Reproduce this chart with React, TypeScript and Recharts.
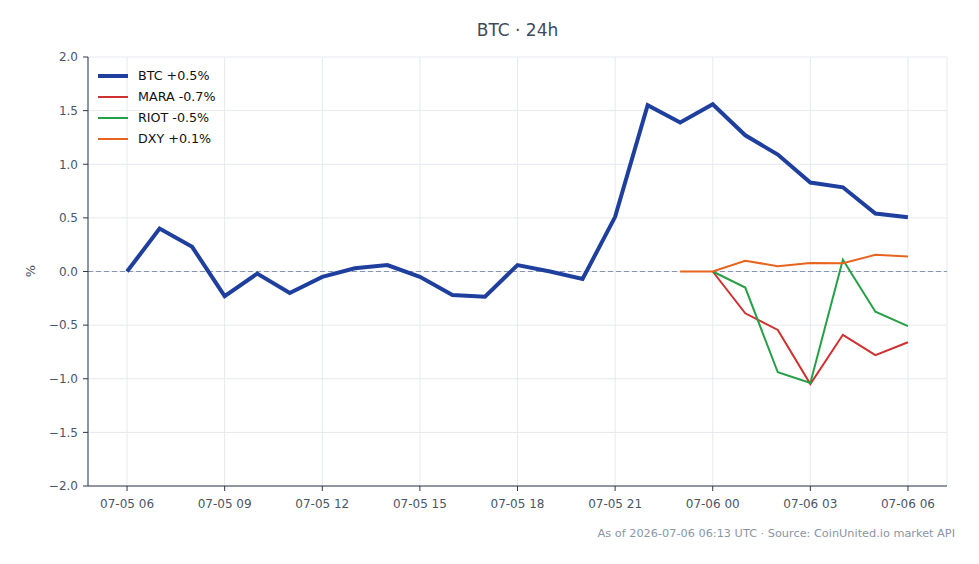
import React from 'react';
import { LineChart, Line, XAxis, YAxis, CartesianGrid, ReferenceLine } from 'recharts';

const hours: string[] = [
  '07-05 06', '07-05 07', '07-05 08', '07-05 09', '07-05 10', '07-05 11', '07-05 12', '07-05 13',
  '07-05 14', '07-05 15', '07-05 16', '07-05 17', '07-05 18', '07-05 19', '07-05 20', '07-05 21',
  '07-05 22', '07-05 23', '07-06 00', '07-06 01', '07-06 02', '07-06 03', '07-06 04', '07-06 05', '07-06 06',
];
const btc: (number | null)[] = [
  0.0, 0.4, 0.23, -0.23, -0.02, -0.2, -0.05, 0.03, 0.06, -0.05, -0.22, -0.235, 0.06, 0.0, -0.07,
  0.51, 1.55, 1.39, 1.56, 1.27, 1.09, 0.83, 0.785, 0.54, 0.505,
];
const mara: (number | null)[] = [
  null, null, null, null, null, null, null, null, null, null, null, null, null, null, null,
  null, null, null, 0.0, -0.39, -0.545, -1.05, -0.59, -0.78, -0.66,
];
const riot: (number | null)[] = [
  null, null, null, null, null, null, null, null, null, null, null, null, null, null, null,
  null, null, null, 0.0, -0.15, -0.94, -1.04, 0.11, -0.375, -0.51,
];
const dxy: (number | null)[] = [
  null, null, null, null, null, null, null, null, null, null, null, null, null, null, null,
  null, null, 0.0, 0.0, 0.1, 0.05, 0.08, 0.077, 0.155, 0.14,
];
const xTicks: number[] = [0, 3, 6, 9, 12, 15, 18, 21, 24];
const yTicks: number[] = [-2, -1.5, -1, -0.5, 0, 0.5, 1, 1.5, 2];
const seriesNames: string[] = ['BTC +0.5%', 'MARA -0.7%', 'RIOT -0.5%', 'DXY +0.1%'];
const seriesKeys: string[] = ['btc', 'mara', 'riot', 'dxy'];
const seriesColors: string[] = ['#1f3f9e', '#d03030', '#26a046', '#e8641e'];
const seriesWidths: number[] = [4, 2, 2, 2];

const data = hours.map((h, i) => ({
  i,
  label: h,
  btc: btc[i],
  mara: mara[i],
  riot: riot[i],
  dxy: dxy[i],
}));

const FONT = '"DejaVu Sans", sans-serif';
const TICK = '#4a5568';
const AXIS = '#2d3748';

const fmtY = (v: number) => {
  const s = Math.abs(v).toFixed(1);
  return v < 0 ? '\u2212' + s : s;
};

export default function App() {
  return (
    <div style={{ position: 'absolute', left: 0, top: 0, width: 979, height: 564, background: '#fff' }}>
      <LineChart
        width={979}
        height={564}
        data={data}
        margin={{ top: 57, right: 32, bottom: 48, left: 0 }}
        style={{ position: 'absolute', left: 0, top: 0 }}
      >
        <CartesianGrid stroke="#e6e9ef" strokeWidth={1} />
        <XAxis
          type="number"
          dataKey="i"
          domain={[-1.2, 25.2]}
          ticks={xTicks}
          tickFormatter={(v: number) => hours[v]}
          height={30}
          stroke={AXIS}
          tickLine={{ stroke: AXIS }}
          tickSize={5}
          tickMargin={8}
          tick={{ fill: TICK, fontSize: 12, fontFamily: FONT }}
          interval={0}
          allowDataOverflow
        />
        <YAxis
          type="number"
          domain={[-2, 2]}
          ticks={yTicks}
          tickFormatter={fmtY}
          width={88}
          stroke={AXIS}
          tickLine={{ stroke: AXIS }}
          tickSize={5}
          tickMargin={5}
          tick={{ fill: TICK, fontSize: 12, fontFamily: FONT }}
          interval={0}
          allowDataOverflow
        />
        <ReferenceLine y={0} stroke="#8896ad" strokeDasharray="5 3" strokeWidth={1} />
        {seriesKeys.map((k, idx) => (
          <Line
            key={k}
            type="linear"
            dataKey={k}
            name={seriesNames[idx]}
            stroke={seriesColors[idx]}
            strokeWidth={seriesWidths[idx]}
            dot={false}
            activeDot={false}
            isAnimationActive={false}
            connectNulls={false}
          />
        ))}
      </LineChart>
      <div
        style={{
          position: 'absolute', left: 0, width: 1035, top: 20, textAlign: 'center',
          fontFamily: FONT, fontSize: 17, color: '#3d4a5c',
        }}
      >
        BTC · 24h
      </div>
      <div
        style={{
          position: 'absolute', left: 30, top: 271, transform: 'translate(-50%, -50%) rotate(-90deg)',
          fontFamily: FONT, fontSize: 13, color: TICK,
        }}
      >
        %
      </div>
      <div
        style={{
          position: 'absolute', right: 24, top: 527, fontFamily: FONT, fontSize: 11.3, color: '#8b95a5',
          whiteSpace: 'nowrap',
        }}
      >
        As of 2026-07-06 06:13 UTC · Source: CoinUnited.io market API
      </div>
      <div style={{ position: 'absolute', left: 98, top: 65, fontFamily: FONT, fontSize: 12.7, color: '#111' }}>
        {seriesNames.map((n, k) => (
          <div key={n} style={{ display: 'flex', alignItems: 'center', height: 21 }}>
            <div style={{ width: 30, height: seriesWidths[k], background: seriesColors[k], marginRight: 10 }} />
            <span>{n}</span>
          </div>
        ))}
      </div>
    </div>
  );
}
